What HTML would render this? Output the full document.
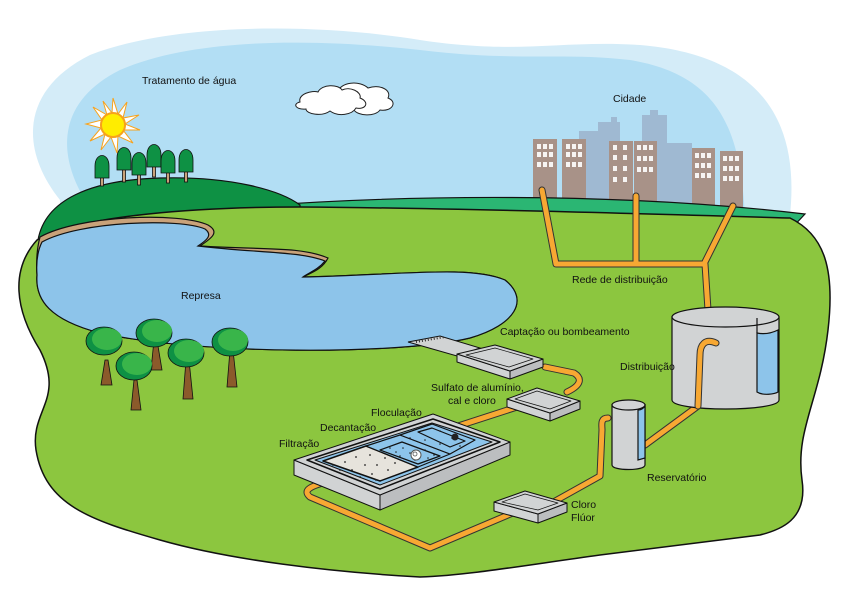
<!DOCTYPE html>
<html><head><meta charset="utf-8"><style>
html,body{margin:0;padding:0;background:#fff}
svg{display:block}
text{font-family:"Liberation Sans",sans-serif;font-size:10.5px;fill:#111;font-stretch:condensed}
</style></head><body>
<svg width="842" height="595" viewBox="0 0 842 595" xmlns="http://www.w3.org/2000/svg">
<!-- sky -->
<path d="M60,200 C20,150 20,90 90,55 C180,20 330,25 420,40 C520,55 560,40 640,45 C760,55 800,120 790,215 L60,215 Z" fill="#d4ecf8"/>
<path d="M85,200 C55,150 60,100 120,70 C200,35 330,40 420,50 C520,62 560,52 630,60 C720,75 740,130 745,215 L85,215 Z" fill="#b2def4"/>
<!-- cloud -->
<g fill="#fff" stroke="#222" stroke-width="1">
<path d="M338,92 C340,82 360,80 368,88 C380,84 392,90 388,98 C398,102 392,112 380,110 C375,117 358,116 354,110 C345,112 336,106 338,92 Z"/>
<path d="M300,102 C298,94 312,90 318,92 C322,84 338,84 342,90 C350,86 362,92 360,98 C370,102 366,110 356,108 C352,115 338,117 330,111 C322,117 306,114 306,109 C296,110 292,104 300,102 Z"/>
</g>
<!-- sun -->
<g transform="translate(113,125)">
<polygon fill="#fff" stroke="#f7a21b" stroke-width="1" points="0,-27 5,-11 14,-23 10,-7 26,-10 12,-1 27,5 10,5 20,18 5,11 4,28 -2,12 -12,25 -8,9 -23,16 -12,3 -27,-1 -11,-5 -20,-18 -6,-10 -10,-24 -1,-12"/>
<circle r="12" fill="#ffed00" stroke="#f7a21b" stroke-width="2"/>
</g>
<!-- city background -->
<g fill="#9fb9d2">
<rect x="579" y="131" width="20" height="75"/><rect x="598" y="122" width="22" height="84"/><rect x="611" y="117" width="6" height="6"/>
<rect x="642" y="115" width="25" height="90"/><rect x="650" y="110" width="8" height="6"/><rect x="663" y="143" width="29" height="62"/>
</g>
<g fill="#a89288">
<rect x="533" y="139" width="24" height="68"/><rect x="562" y="139" width="24" height="68"/>
<rect x="609" y="141" width="24" height="68"/><rect x="634" y="141" width="23" height="68"/>
<rect x="692" y="148" width="23" height="68"/><rect x="720" y="151" width="23" height="68"/>
</g>
<g fill="#fff" opacity="0.9">
<path d="M537,144h4v5h-4zM543,144h4v5h-4zM549,144h4v5h-4zM537,152h4v5h-4zM543,152h4v5h-4zM549,152h4v5h-4zM537,162h4v5h-4zM543,162h4v5h-4zM549,162h4v5h-4z"/>
<path d="M566,144h4v5h-4zM572,144h4v5h-4zM578,144h4v5h-4zM566,152h4v5h-4zM572,152h4v5h-4zM578,152h4v5h-4zM566,162h4v5h-4zM572,162h4v5h-4zM578,162h4v5h-4z"/>
<path d="M613,145h4v5h-4zM623,145h4v5h-4zM613,155h4v5h-4zM623,155h4v5h-4zM613,166h4v5h-4zM623,166h4v5h-4zM613,177h4v5h-4zM623,177h4v5h-4z"/>
<path d="M637,145h4v5h-4zM643,145h4v5h-4zM649,145h4v5h-4zM637,156h4v5h-4zM643,156h4v5h-4zM649,156h4v5h-4zM637,167h4v5h-4zM643,167h4v5h-4zM649,167h4v5h-4z"/>
<path d="M695,153h4v5h-4zM701,153h4v5h-4zM707,153h4v5h-4zM695,163h4v5h-4zM701,163h4v5h-4zM707,163h4v5h-4zM695,173h4v5h-4zM701,173h4v5h-4zM707,173h4v5h-4z"/>
<path d="M723,156h4v5h-4zM729,156h4v5h-4zM735,156h4v5h-4zM723,166h4v5h-4zM729,166h4v5h-4zM735,166h4v5h-4zM723,176h4v5h-4zM729,176h4v5h-4zM735,176h4v5h-4z"/>
</g>
<!-- dark-green band -->
<path d="M230,208 C400,194 620,192 805,214 L790,230 L230,230 Z" fill="#2bb673" stroke="#111" stroke-width="1.2"/>
<!-- left hill -->
<path d="M38,240 C45,200 90,180 160,178 C230,176 280,190 300,205 L300,240 Z" fill="#0e9144" stroke="#111" stroke-width="1.2"/>
<!-- cypress trees -->
<g fill="#0e9144" stroke="#111" stroke-width="0.8">
<g transform="translate(102,158)"><rect x="-1.5" y="18" width="3" height="10" fill="#c9a27a"/><path d="M-7,20 L-7,8 C-7,-6 7,-6 7,8 L7,20 Z"/></g>
<g transform="translate(124,150)"><rect x="-1.5" y="18" width="3" height="14" fill="#c9a27a"/><path d="M-7,20 L-7,8 C-7,-6 7,-6 7,8 L7,20 Z"/></g>
<g transform="translate(139,155)"><rect x="-1.5" y="18" width="3" height="12" fill="#c9a27a"/><path d="M-7,20 L-7,8 C-7,-6 7,-6 7,8 L7,20 Z"/></g>
<g transform="translate(154,147)"><rect x="-1.5" y="18" width="3" height="12" fill="#c9a27a"/><path d="M-7,20 L-7,8 C-7,-6 7,-6 7,8 L7,20 Z"/></g>
<g transform="translate(168,153)"><rect x="-1.5" y="18" width="3" height="12" fill="#c9a27a"/><path d="M-7,20 L-7,8 C-7,-6 7,-6 7,8 L7,20 Z"/></g>
<g transform="translate(186,152)"><rect x="-1.5" y="18" width="3" height="12" fill="#c9a27a"/><path d="M-7,20 L-7,8 C-7,-6 7,-6 7,8 L7,20 Z"/></g>
</g>
<!-- main land -->
<path d="M37,240 C80,215 200,207 300,207 C450,208 650,214 790,218 C825,235 835,270 828,330 C820,400 795,430 802,480 C808,520 780,530 760,535 L600,555 C520,566 470,575 420,577 C330,572 230,560 160,540 C90,520 45,505 36,450 C30,410 65,400 40,350 C15,310 10,270 37,240 Z" fill="#8cc63f" stroke="#111" stroke-width="1.5"/>
<!-- lake -->
<path d="M40,237 C80,215 180,212 208,225 C220,232 212,238 200,246 C260,250 300,246 328,258 C322,270 310,273 303,277 C400,275 470,265 505,280 C530,300 515,325 470,338 C400,355 200,355 100,333 C50,320 35,300 37,275 C36,260 37,248 40,237 Z" fill="#c9a27a" stroke="#111" stroke-width="1.2"/>
<path d="M42,242 C80,221 180,218 205,229 C213,235 207,240 198,246 C255,253 300,251 325,261 C318,270 308,273 303,277 C400,275 470,265 505,280 C530,300 515,325 470,338 C400,355 200,355 100,333 C50,320 35,300 37,275 C36,262 38,250 42,242 Z" fill="#8dc4ea" stroke="#111" stroke-width="1.2"/>
<!-- round trees -->
<g stroke="#111" stroke-width="0.8">
<polygon points="101,385 105,360 108,360 112,385" fill="#8b5a2b"/>
<polygon points="151,370 154,340 157,340 162,370" fill="#8b5a2b"/>
<polygon points="131,410 134,380 137,380 141,410" fill="#8b5a2b"/>
<polygon points="183,399 186,360 189,360 193,399" fill="#8b5a2b"/>
<polygon points="227,387 230,350 233,350 237,387" fill="#8b5a2b"/>
<ellipse cx="104" cy="341" rx="18" ry="14" fill="#0e9144"/><ellipse cx="107" cy="339" rx="15" ry="11" fill="#39b54a" stroke="none"/>
<ellipse cx="154" cy="333" rx="18" ry="14" fill="#0e9144"/><ellipse cx="157" cy="331" rx="15" ry="11" fill="#39b54a" stroke="none"/>
<ellipse cx="134" cy="366" rx="18" ry="14" fill="#0e9144"/><ellipse cx="137" cy="364" rx="15" ry="11" fill="#39b54a" stroke="none"/>
<ellipse cx="186" cy="353" rx="18" ry="14" fill="#0e9144"/><ellipse cx="189" cy="351" rx="15" ry="11" fill="#39b54a" stroke="none"/>
<ellipse cx="230" cy="342" rx="18" ry="14" fill="#0e9144"/><ellipse cx="233" cy="340" rx="15" ry="11" fill="#39b54a" stroke="none"/>
</g>
<!-- pipes -->
<g fill="none" stroke-linecap="round" stroke-linejoin="round">
<g stroke="#333" stroke-width="7">
<path d="M542,190 L556,264 L705,264 L708,310 M636,196 L636,264 M733,206 L705,262"/>
<path d="M716,343 C705,338 700,345 700,355 L698,406 L645,445"/>
<path d="M608,418 C600,418 602,425 602,430 L600,476 L548,505"/>
<path d="M515,512 L430,548 L310,497 C302,490 310,486 333,480"/>
<path d="M415,440 L520,406"/>
<path d="M545,367 L574,373 C582,378 582,385 567,392"/>
</g>
<g stroke="#f7a833" stroke-width="5">
<path d="M542,190 L556,264 L705,264 L708,310 M636,196 L636,264 M733,206 L705,262"/>
<path d="M716,343 C705,338 700,345 700,355 L698,406 L645,445"/>
<path d="M608,418 C600,418 602,425 602,430 L600,476 L548,505"/>
<path d="M515,512 L430,548 L310,497 C302,490 310,486 333,480"/>
<path d="M415,440 L520,406"/>
<path d="M545,367 L574,373 C582,378 582,385 567,392"/>
</g>
</g>
<!-- big tank -->
<g stroke="#111" stroke-width="1.2">
<path d="M672,317 L672,400 C672,412 779,412 779,400 L779,317 Z" fill="#d1d3d4"/>
<ellipse cx="725.5" cy="317" rx="53.5" ry="10" fill="#d1d3d4"/>
<path d="M757,333 L757,392 C763,396 775,394 778,392 L778,330 C770,334 762,334 757,333 Z" fill="#8dc4ea"/>
<path d="M757,333 L757,318" fill="none"/>
</g>
<g fill="none" stroke-linecap="round">
<path d="M716,343 C705,338 700,345 700,355 L698,406" stroke="#333" stroke-width="7"/>
<path d="M716,343 C705,338 700,345 700,355 L698,406" stroke="#f7a833" stroke-width="5"/>
</g>
<!-- reservoir -->
<g stroke="#111" stroke-width="1.2">
<path d="M612,405 L612,465 C612,471 645,471 645,465 L645,405 Z" fill="#d1d3d4"/>
<ellipse cx="628.5" cy="405" rx="16.5" ry="5" fill="#d1d3d4"/>
<path d="M638,410 L638,460 L645,458 L645,406 C643,409 640,410 638,410 Z" fill="#8dc4ea"/>
</g>
<!-- intake channel -->
<polygon points="408,342 440,336 480,348 457,356" fill="#d1d3d4" stroke="#111" stroke-width="1"/>
<path d="M416,342 L445,337" stroke="#333" stroke-width="2" stroke-dasharray="1,2"/>
<g stroke="#111" stroke-width="1" stroke-linejoin="round">
<polygon points="457,354 510,371 510,379 457,362" fill="#d1d3d4"/>
<polygon points="510,371 543,359 543,367 510,379" fill="#bcbec0"/>
<polygon points="457,354 495,345 543,359 510,371" fill="#d1d3d4"/>
<polygon points="466,355 495,348 533,359 509,367" fill="none" stroke-width="0.7"/>

<polygon points="507,399 550,413 550,421 507,407" fill="#d1d3d4"/>
<polygon points="550,413 580,401 580,409 550,421" fill="#bcbec0"/>
<polygon points="507,399 537,388 580,401 550,413" fill="#d1d3d4"/>
<polygon points="515,399 537,391 571,401 550,409" fill="none" stroke-width="0.7"/>

<polygon points="494,502 538,514 538,523 494,511" fill="#d1d3d4"/>
<polygon points="538,514 567,503 567,512 538,523" fill="#bcbec0"/>
<polygon points="494,502 525,491 567,503 538,514" fill="#d1d3d4"/>
<polygon points="502,502 525,494 558,503 538,510" fill="none" stroke-width="0.7"/>

<!-- treatment tank -->
<polygon points="294,460 380,495 380,510 294,475" fill="#d1d3d4"/>
<polygon points="380,495 510,442 510,455 380,510" fill="#bcbec0"/>
<polygon points="294,460 433,414 510,442 380,495" fill="#d1d3d4"/>
<polygon points="307,460 433,419 500,442 380,489" fill="none" stroke-width="1.5"/>
<polygon points="315,460 432,423 492,442 380,485" fill="#8dc4ea"/>
<polygon points="323,461 366,446 418,467 380,481" fill="#e6e3dc" stroke-width="1.5"/>
<polygon points="366,446 400,435 450,454 418,467" fill="#8dc4ea" stroke-width="1.2"/>
<polygon points="380,450 402,442 440,456 418,464" fill="#8dc4ea" stroke-width="1.2"/>
<polygon points="400,435 432,424 475,440 450,454" fill="#8dc4ea" stroke-width="1.2"/>
<polygon points="418,432 432,428 465,441 450,447" fill="none" stroke-width="1.2"/>
</g>
<g fill="#222">
<circle cx="333" cy="465" r="0.9"/><circle cx="345" cy="462" r="0.9"/><circle cx="356" cy="457" r="0.9"/><circle cx="340" cy="470" r="0.9"/><circle cx="352" cy="470" r="0.9"/><circle cx="365" cy="465" r="0.9"/><circle cx="360" cy="477" r="0.9"/><circle cx="372" cy="474" r="0.9"/><circle cx="377" cy="465" r="0.9"/><circle cx="388" cy="470" r="0.9"/><circle cx="376" cy="480" r="0.9"/><circle cx="395" cy="463" r="0.9"/><circle cx="385" cy="458" r="0.9"/><circle cx="370" cy="455" r="0.9"/>
<circle cx="390" cy="448" r="0.8"/><circle cx="396" cy="452" r="0.8"/><circle cx="403" cy="448" r="0.8"/><circle cx="410" cy="453" r="0.8"/><circle cx="420" cy="455" r="0.8"/><circle cx="428" cy="458" r="0.8"/><circle cx="415" cy="460" r="0.8"/><circle cx="425" cy="450" r="0.8"/><circle cx="434" cy="455" r="0.8"/><circle cx="400" cy="456" r="0.8"/>
<circle cx="440" cy="444" r="0.8"/><circle cx="452" cy="438" r="0.8"/><circle cx="460" cy="446" r="0.8"/><circle cx="440" cy="431" r="0.8"/><circle cx="425" cy="440" r="0.8"/><circle cx="410" cy="438" r="0.8"/>
<circle cx="455" cy="437" r="3.5"/>
</g>
<circle cx="416" cy="455" r="5" fill="#fff" stroke="#555" stroke-width="1"/>
<circle cx="415" cy="454" r="2" fill="none" stroke="#555" stroke-width="0.8"/>
<!-- labels -->
<text x="142" y="84">Tratamento de água</text>
<text x="613" y="102">Cidade</text>
<text x="181" y="299">Represa</text>
<text x="572" y="283">Rede de distribuição</text>
<text x="500" y="335">Captação ou bombeamento</text>
<text x="620" y="370">Distribuição</text>
<text x="431" y="391">Sulfato de alumínio,</text>
<text x="448" y="404">cal e cloro</text>
<text x="371" y="416">Floculação</text>
<text x="320" y="431">Decantação</text>
<text x="279" y="447">Filtração</text>
<text x="647" y="481">Reservatório</text>
<text x="571" y="508">Cloro</text>
<text x="571" y="521">Flúor</text>
</svg>
</body></html>
